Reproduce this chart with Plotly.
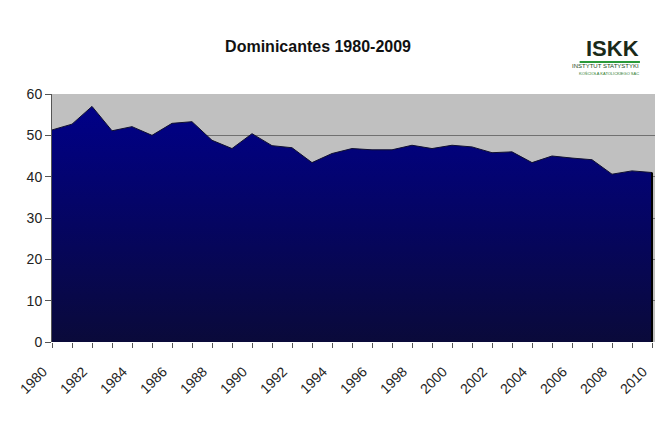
import plotly.graph_objects as go

years = list(range(1980, 2011))
values = [51.3, 52.7, 57.0, 51.1, 52.1, 50.0, 52.9, 53.3, 48.8, 46.8,
          50.4, 47.5, 47.0, 43.4, 45.6, 46.8, 46.5, 46.5, 47.6, 46.8,
          47.6, 47.2, 45.8, 46.0, 43.4, 45.0, 44.5, 44.1, 40.6, 41.4, 41.0]
tick_years = list(range(1980, 2011, 2))
title_text = "Dominicantes 1980-2009"

fig = go.Figure()
fig.add_trace(go.Scatter(
    x=years, y=values, mode="lines", fill="tozeroy",
    line=dict(color="#101030", width=1),
    fillgradient=dict(type="vertical",
                      colorscale=[[0, "#0a0a3a"], [1, "#000088"]]),
    hoverinfo="skip", showlegend=False))
fig.add_trace(go.Scatter(
    x=[years[-1], years[-1]], y=[0, values[-1]], mode="lines",
    line=dict(color="#000000", width=2), hoverinfo="skip", showlegend=False))

fig.update_layout(
    width=664, height=442,
    margin=dict(l=52, r=9, t=94, b=100),
    paper_bgcolor="white", plot_bgcolor="#c0c0c0",
    font=dict(family="Liberation Sans, Arial, sans-serif", size=14, color="#222"),
    title=dict(text="<b>" + title_text + "</b>", x=0.479, xanchor="center",
               y=0.895, yanchor="middle",
               font=dict(size=16, color="#111")),
    xaxis=dict(range=[1980, 2010.15], tickvals=tick_years,
               ticktext=[str(y) for y in tick_years], tickangle=-45,
               ticks="outside", ticklen=5, tickcolor="#555",
               ticklabelshift=-9, ticklabelstandoff=10,
               minor=dict(dtick=1, tick0=1980, ticks="outside", ticklen=5,
                          tickcolor="#555"),
               showgrid=False, zeroline=False, showline=False,
               tickfont=dict(size=14)),
    yaxis=dict(range=[0, 60], dtick=10, ticks="outside", ticklen=6,
               tickcolor="#555", showgrid=True, gridcolor="#707070",
               gridwidth=1, zeroline=False, showline=True,
               linecolor="#555", linewidth=1, tickfont=dict(size=14)),
)

# logo
fig.add_annotation(xref="paper", yref="paper", x=0.975, y=1.185,
                   xanchor="right", yanchor="middle", showarrow=False,
                   text="<b>ISKK</b>", borderpad=0,
                   font=dict(size=22, color="#1a2a1a",
                             family="Liberation Sans, Arial"))
fig.add_annotation(xref="paper", yref="paper", x=0.975, y=1.111,
                   xanchor="right", yanchor="middle", showarrow=False,
                   text="INSTYTUT STATYSTYKI", borderpad=0,
                   font=dict(size=6, color="#1a4a1a",
                             family="Liberation Sans, Arial"))
fig.add_annotation(xref="paper", yref="paper", x=0.975, y=1.081,
                   xanchor="right", yanchor="middle", showarrow=False,
                   text="KOŚCIOŁA KATOLICKIEGO SAC", borderpad=0,
                   font=dict(size=4, color="#2a7a2a",
                             family="Liberation Sans, Arial"))
fig.add_shape(type="line", xref="paper", yref="paper",
              x0=0.875, x1=0.975, y0=1.129, y1=1.129,
              line=dict(color="#2a9a3a", width=2))

fig.write_html("out.html")
